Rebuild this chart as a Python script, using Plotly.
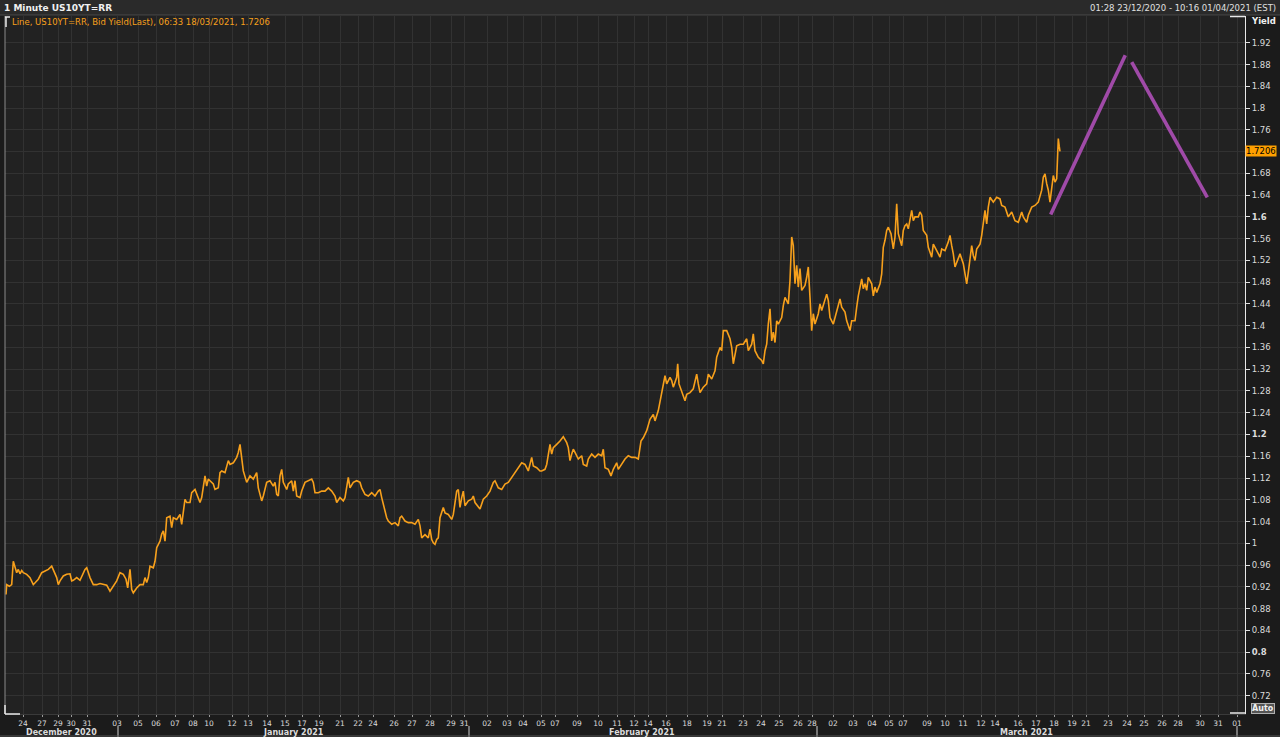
import plotly.graph_objects as go

# ---------------- data ----------------
# time position on the (trading-session) x axis, and US10Y bid yield
T = [6.0, 6.7, 9.3, 11.7, 13.3, 15.0, 16.7, 18.3, 20.0, 21.7, 23.3, 26.7, 30.0, 33.3, 35.0, 38.3, 41.7, 45.0, 48.3, 51.7,
     53.3, 56.7, 58.3, 60.0, 63.3, 66.7, 70.0, 71.7, 73.3, 76.7, 80.0, 81.7, 85.0, 86.7, 90.0, 93.3, 96.7, 100.0, 103.3, 106.7,
     110.0, 113.3, 116.7, 120.0, 123.3, 126.0, 127.7, 130.0, 131.7, 133.3, 136.7, 140.0, 143.3, 145.0, 146.7, 148.3, 150.0, 153.3, 155.0, 156.7,
     160.0, 161.7, 163.3, 165.0, 166.7, 170.0, 171.7, 173.3, 176.7, 180.0, 181.7, 185.0, 186.7, 190.0, 191.7, 195.0, 196.7, 200.0, 201.7, 205.0,
     206.7, 208.3, 210.0, 213.3, 215.0, 218.3, 220.0, 221.7, 225.0, 228.3, 230.0, 233.3, 236.7, 238.3, 240.0, 241.7, 243.3, 246.7, 248.3, 250.0,
     253.3, 256.7, 258.3, 260.0, 261.7, 263.3, 266.7, 270.0,
     273.3, 275.0, 276.7, 278.3, 280.0, 281.7, 283.3, 286.7, 288.3, 291.7, 293.3, 295.0, 296.7, 300.0, 301.7, 305.0, 308.3, 311.7, 313.3, 315.0,
     318.3, 321.7, 325.0, 328.3, 331.7, 335.0, 336.7, 340.0, 343.3, 345.0, 348.3, 350.0, 353.3, 356.7, 360.0, 361.7, 365.0, 368.3, 371.7, 375.0,
     378.3, 380.0, 381.7, 385.0, 386.7, 388.3, 391.7, 395.0, 398.3, 400.0, 401.7, 405.0, 408.3, 411.7, 415.0, 418.3, 420.0, 421.7, 425.0, 428.3,
     430.0, 431.7, 433.3, 435.0, 436.7, 438.3, 440.0, 443.3, 445.0, 448.3, 451.7, 453.3, 456.7, 458.3, 460.0, 461.7, 463.3, 465.0, 468.3, 471.7,
     473.3, 475.0, 478.3, 480.0, 483.3, 486.7, 490.0, 493.3, 495.0, 498.3, 501.7, 505.0, 508.3, 511.7, 515.0, 518.3, 521.7, 525.0, 528.3, 531.7,
     533.3, 536.7, 540.0,
     541.7, 545.0, 546.7, 548.3, 550.0, 551.7, 553.3, 556.7, 560.0, 563.3, 566.7, 568.3, 570.0, 571.7, 573.3, 575.0, 578.3, 581.7, 583.3, 586.7,
     588.3, 591.7, 595.0, 598.3, 601.7, 603.3, 605.0, 608.3, 611.0, 613.3, 616.7, 618.3, 621.7, 625.0, 628.3, 631.7, 635.0, 638.3, 641.0, 643.3,
     646.7, 650.0, 653.3, 655.0, 658.3, 661.7, 665.0, 666.7, 670.0, 671.7, 673.3, 676.7, 677.7, 679.0, 681.7, 685.0, 686.7, 690.0, 693.3, 696.7,
     698.3, 700.0, 703.3, 706.7, 708.3, 711.7, 715.0, 716.7, 720.0, 721.7, 723.3, 726.7, 730.0, 731.7, 733.3, 736.7, 740.0, 743.3, 746.7, 748.3,
     751.7, 753.3, 755.0, 758.3, 761.7, 763.3, 765.0, 766.7, 768.3, 770.0, 771.7, 773.3, 775.0, 776.7, 778.3, 781.7, 783.3, 785.0, 788.3, 790.0,
     791.7, 793.3, 795.0, 796.7, 798.3, 800.0, 801.7, 805.0, 806.7, 808.3, 810.0,
     811.7, 813.3, 815.0, 818.3, 820.0, 821.7, 825.0, 826.7, 828.3, 830.0, 833.3, 835.0, 838.3, 840.0, 841.7, 845.0, 846.7, 850.0, 851.7, 855.0,
     856.7, 858.3, 861.7, 863.3, 865.0, 866.7, 868.3, 871.7, 873.3, 875.0, 876.7, 880.0, 881.7, 883.3, 885.0, 886.7, 888.3, 891.0, 893.3, 895.0,
     896.7, 898.3, 901.7, 903.3, 905.0, 906.7, 908.3, 911.7, 913.3, 915.0, 918.3, 920.0, 921.7, 923.3, 926.7, 928.3, 931.7, 933.3, 936.7, 940.0,
     941.7, 945.0, 948.3, 950.0, 951.7, 953.3, 955.0, 958.3, 960.0, 963.3, 965.0, 966.7, 968.3, 970.0, 971.7, 973.3, 975.0, 976.7, 980.0, 981.7,
     983.3, 985.0, 986.7, 988.3, 990.0, 993.3, 996.7, 1000.0, 1001.7, 1005.0, 1008.3, 1011.7, 1015.0, 1018.3, 1021.7, 1023.3, 1026.7, 1028.3, 1031.7, 1035.0,
     1038.3, 1041.7, 1043.3, 1045.0, 1046.7, 1048.3, 1050.0, 1051.7, 1053.3, 1055.0, 1056.7, 1057.7, 1058.3, 1059.2, 1060.0]

YIELD = [0.906, 0.924, 0.921, 0.924, 0.967, 0.958, 0.946, 0.952, 0.944, 0.950, 0.946, 0.943, 0.937, 0.924, 0.928, 0.934, 0.946, 0.949, 0.952, 0.958,
         0.952, 0.937, 0.924, 0.931, 0.940, 0.943, 0.944, 0.931, 0.932, 0.937, 0.932, 0.938, 0.952, 0.955, 0.937, 0.924, 0.924, 0.926, 0.924, 0.923,
         0.912, 0.921, 0.931, 0.946, 0.943, 0.934, 0.918, 0.952, 0.915, 0.909, 0.918, 0.924, 0.924, 0.937, 0.928, 0.937, 0.958, 0.955, 0.967, 0.992,
         1.004, 1.017, 1.023, 1.004, 1.047, 1.050, 1.029, 1.047, 1.044, 1.053, 1.035, 1.081, 1.075, 1.075, 1.093, 1.099, 1.090, 1.075, 1.084, 1.124,
         1.105, 1.118, 1.115, 1.109, 1.099, 1.102, 1.130, 1.133, 1.130, 1.152, 1.145, 1.148, 1.158, 1.167, 1.182, 1.158, 1.133, 1.112, 1.118, 1.124,
         1.118, 1.130, 1.102, 1.090, 1.078, 1.087, 1.112, 1.115,
         1.105, 1.112, 1.090, 1.087, 1.124, 1.136, 1.112, 1.099, 1.109, 1.115, 1.096, 1.115, 1.087, 1.084, 1.096, 1.112, 1.115, 1.118, 1.112, 1.093,
         1.093, 1.096, 1.096, 1.102, 1.096, 1.087, 1.075, 1.084, 1.078, 1.084, 1.121, 1.102, 1.112, 1.115, 1.112, 1.102, 1.090, 1.087, 1.093, 1.087,
         1.096, 1.099, 1.084, 1.059, 1.047, 1.041, 1.035, 1.038, 1.032, 1.047, 1.050, 1.041, 1.038, 1.038, 1.035, 1.044, 1.032, 1.010, 1.016, 1.010,
         1.026, 1.007, 1.001, 0.998, 1.007, 1.010, 1.047, 1.066, 1.056, 1.053, 1.044, 1.053, 1.096, 1.099, 1.066, 1.084, 1.096, 1.069, 1.078, 1.081,
         1.087, 1.075, 1.066, 1.063, 1.081, 1.087, 1.096, 1.112, 1.115, 1.102, 1.099, 1.109, 1.112, 1.121, 1.130, 1.139, 1.148, 1.145, 1.133, 1.158,
         1.142, 1.139, 1.133,
         1.133, 1.136, 1.145, 1.164, 1.182, 1.164, 1.176, 1.182, 1.188, 1.196, 1.185, 1.176, 1.152, 1.164, 1.173, 1.167, 1.155, 1.161, 1.145, 1.142,
         1.155, 1.164, 1.158, 1.164, 1.161, 1.173, 1.139, 1.136, 1.124, 1.136, 1.148, 1.136, 1.145, 1.155, 1.161, 1.158, 1.158, 1.155, 1.188, 1.194,
         1.207, 1.228, 1.237, 1.225, 1.244, 1.280, 1.308, 1.293, 1.305, 1.299, 1.287, 1.305, 1.330, 1.293, 1.280, 1.262, 1.274, 1.277, 1.284, 1.311,
         1.293, 1.277, 1.287, 1.293, 1.311, 1.302, 1.317, 1.342, 1.360, 1.354, 1.391, 1.391, 1.376, 1.360, 1.330, 1.363, 1.366, 1.366, 1.376, 1.354,
         1.366, 1.385, 1.354, 1.342, 1.336, 1.330, 1.354, 1.366, 1.403, 1.431, 1.372, 1.388, 1.369, 1.409, 1.403, 1.415, 1.437, 1.452, 1.440, 1.483,
         1.563, 1.547, 1.477, 1.511, 1.471, 1.505, 1.465, 1.474, 1.489, 1.508, 1.452,
         1.391, 1.422, 1.403, 1.422, 1.440, 1.428, 1.446, 1.458, 1.446, 1.415, 1.403, 1.415, 1.434, 1.449, 1.434, 1.425, 1.409, 1.391, 1.409, 1.409,
         1.434, 1.455, 1.486, 1.468, 1.477, 1.465, 1.489, 1.477, 1.455, 1.471, 1.461, 1.477, 1.495, 1.544, 1.557, 1.575, 1.581, 1.569, 1.541, 1.563,
         1.624, 1.569, 1.547, 1.575, 1.584, 1.587, 1.578, 1.612, 1.593, 1.600, 1.600, 1.609, 1.603, 1.575, 1.566, 1.544, 1.526, 1.550, 1.538, 1.526,
         1.541, 1.538, 1.554, 1.566, 1.547, 1.532, 1.508, 1.526, 1.532, 1.514, 1.495, 1.477, 1.498, 1.526, 1.547, 1.529, 1.520, 1.541, 1.550, 1.566,
         1.593, 1.612, 1.587, 1.618, 1.636, 1.627, 1.636, 1.633, 1.621, 1.618, 1.600, 1.609, 1.593, 1.590, 1.609, 1.600, 1.590, 1.603, 1.618, 1.621,
         1.627, 1.649, 1.673, 1.679, 1.661, 1.649, 1.627, 1.655, 1.676, 1.664, 1.670, 1.716, 1.744, 1.730, 1.7206]

# hand-drawn projection (two purple strokes)
DRAW_T = [1050.7, 1125.3, None, 1131.7, 1207.3]
DRAW_Y = [1.6045, 1.897, None, 1.8845, 1.636]

LAST_VALUE = 1.7206

# x-axis ticks (session positions) and their day labels
X_TICK_POS = [23, 42, 58, 71, 87, 117, 138, 156, 175, 193, 209, 232, 248, 267, 285, 302, 319, 340, 358, 373,
              394, 412, 430, 451, 464, 487, 507, 523, 541, 555, 577, 598, 617, 634, 648, 666, 687, 707, 722, 743,
              761, 779, 798, 812, 833, 853, 872, 889, 903, 927, 945, 963, 981, 995, 1018, 1036, 1054, 1072, 1086, 1108,
              1127, 1144, 1162, 1178, 1200, 1218, 1237]
X_TICK_LABELS = ["24", "27", "29", "30", "31", "03", "05", "06", "07", "08", "10", "12", "13", "14", "15", "17", "19", "21", "22", "24",
                 "26", "27", "28", "29", "31", "02", "03", "04", "05", "07", "09", "10", "11", "12", "14", "16", "18", "19", "21", "23",
                 "24", "25", "26", "28", "02", "03", "04", "05", "07", "09", "10", "11", "12", "14", "16", "17", "18", "19", "21", "23",
                 "24", "25", "26", "28", "30", "31", "01"]
MONTH_LABELS = ["December 2020", "January 2021", "February 2021", "March 2021"]
MONTH_CENTERS = [61, 293, 642, 1026]
MONTH_BOUNDS = [118, 469, 817, 1237]

Y_TICKS = [round(0.72 + 0.04 * i, 2) for i in range(31)]

# ---------------- geometry helpers ----------------
W, H = 1280, 737
L, R, TOP, BOT = 5, 1245, 16, 714
X_RANGE = [L, R]
Y_RANGE = [0.6863, 1.9692]


def px(xp):
    return (xp - L) / (R - L)


def py(yp):
    return (BOT - yp) / (BOT - TOP)


def fmt(v):
    s = ("%.2f" % v).rstrip("0").rstrip(".")
    if abs(v - LAST_VALUE) < 0.02:
        return ""  # hidden behind the last-value box
    if abs(round(v / 0.4) * 0.4 - v) < 1e-6:
        return "<b>%s</b>" % s
    return s


FONT = "Verdana, DejaVu Sans, sans-serif"
ORANGE = "#f7a01c"
PURPLE = "#a04aa8"
GRID = "#323232"

fig = go.Figure()
fig.add_trace(go.Scatter(x=T, y=YIELD, mode="lines",
                         line=dict(color=ORANGE, width=1.6), hoverinfo="skip"))
fig.add_trace(go.Scatter(x=DRAW_T, y=DRAW_Y, mode="lines",
                         line=dict(color=PURPLE, width=3.6), connectgaps=False, hoverinfo="skip"))

shapes = []
# top title bar
shapes.append(dict(type="rect", xref="paper", yref="paper", x0=px(0), x1=px(W), y0=py(15), y1=py(0),
                   fillcolor="#2a2a2a", line=dict(width=0), layer="below"))
shapes.append(dict(type="line", xref="paper", yref="paper", x0=px(0), x1=px(W), y0=py(15), y1=py(15),
                   line=dict(color="#4a4a4a", width=1)))
# left frame line
shapes.append(dict(type="line", xref="paper", yref="paper", x0=px(5), x1=px(5), y0=py(TOP), y1=py(BOT),
                   line=dict(color="#8a8a8a", width=1)))
# corner brackets
for (xa, ya, xb, yb) in [(5, 17, 10, 17), (6, 17, 6, 27),
                         (5, 705, 5, 714), (5, 714, 20, 714),
                         (1230, 16.5, 1245, 16.5), (1230, 713, 1245, 713)]:
    shapes.append(dict(type="line", xref="paper", yref="paper", x0=px(xa), x1=px(xb), y0=py(ya), y1=py(yb),
                       line=dict(color="#e8e8e8", width=1.5)))
# month separators
for b in MONTH_BOUNDS:
    shapes.append(dict(type="line", xref="paper", yref="paper", x0=px(b), x1=px(b), y0=py(726), y1=py(737),
                       line=dict(color="#d0d0d0", width=1)))
shapes.append(dict(type="line", xref="paper", yref="paper", x0=px(0), x1=px(W), y0=py(736), y1=py(736),
                   line=dict(color="#555555", width=1)))

annotations = []
annotations.append(dict(text="<b>1 Minute US10YT=RR</b>", xref="paper", yref="paper", x=px(2), y=py(8),
                        xanchor="left", yanchor="middle", showarrow=False,
                        font=dict(family=FONT, size=9, color="#f0f0f0")))
annotations.append(dict(text="01:28 23/12/2020 - 10:16 01/04/2021 (EST)", xref="paper", yref="paper",
                        x=px(1278), y=py(8), xanchor="right", yanchor="middle", showarrow=False,
                        font=dict(family=FONT, size=8.5, color="#e0e0e0")))
annotations.append(dict(text="Line, US10YT=RR, Bid Yield(Last), 06:33 18/03/2021, 1.7206", xref="paper", yref="paper",
                        x=px(10), y=py(22), xanchor="left", yanchor="middle", showarrow=False,
                        font=dict(family=FONT, size=8.5, color=ORANGE)))
annotations.append(dict(text="<b>Yield</b>", xref="paper", yref="paper", x=px(1249), y=py(21),
                        xanchor="left", yanchor="middle", showarrow=False,
                        font=dict(family=FONT, size=8.5, color="#f0f0f0")))
annotations.append(dict(text="1.7206", xref="paper", yref="y", x=px(1245), y=LAST_VALUE,
                        xanchor="left", yanchor="middle", showarrow=False, bgcolor="#ffa000",
                        borderpad=0, font=dict(family=FONT, size=8.5, color="#000000")))
annotations.append(dict(text="<b>Auto</b>", xref="paper", yref="paper", x=px(1251), y=py(708),
                        xanchor="left", yanchor="middle", showarrow=False, bgcolor="#555555",
                        bordercolor="#b0b0b0", borderwidth=1, borderpad=0,
                        font=dict(family=FONT, size=8, color="#f0f0f0")))
for lbl, c in zip(MONTH_LABELS, MONTH_CENTERS):
    annotations.append(dict(text="<b>%s</b>" % lbl, xref="paper", yref="paper", x=px(c), y=py(732),
                            xanchor="center", yanchor="middle", showarrow=False,
                            font=dict(family=FONT, size=8, color="#dcdcdc")))

fig.update_layout(
    width=W, height=H,
    margin=dict(l=L, r=W - R, t=TOP, b=H - BOT, pad=0),
    paper_bgcolor="#1b1b1b",
    plot_bgcolor="#222222",
    showlegend=False,
    shapes=shapes,
    annotations=annotations,
    xaxis=dict(range=X_RANGE, tickmode="array", tickvals=X_TICK_POS, ticktext=X_TICK_LABELS,
               showgrid=True, gridcolor=GRID, gridwidth=1, zeroline=False,
               ticks="outside", ticklen=2, tickcolor="#9a9a9a", showline=True, linecolor="#3a3a3a",
               tickfont=dict(family=FONT, size=7.5, color="#dcdcdc"), tickangle=0, fixedrange=True),
    yaxis=dict(range=Y_RANGE, side="right", tickmode="array", tickvals=Y_TICKS,
               ticktext=[fmt(v) for v in Y_TICKS],
               showgrid=True, gridcolor=GRID, gridwidth=1, zeroline=False,
               ticks="outside", ticklen=4, tickcolor="#e0e0e0", showline=True, linecolor="#e8e8e8", linewidth=1,
               tickfont=dict(family=FONT, size=8.5, color="#dcdcdc"), fixedrange=True),
)

fig.write_html("out.html", config={"displayModeBar": False},
               post_script="document.body.style.margin='0';document.body.style.background='#1b1b1b';")
